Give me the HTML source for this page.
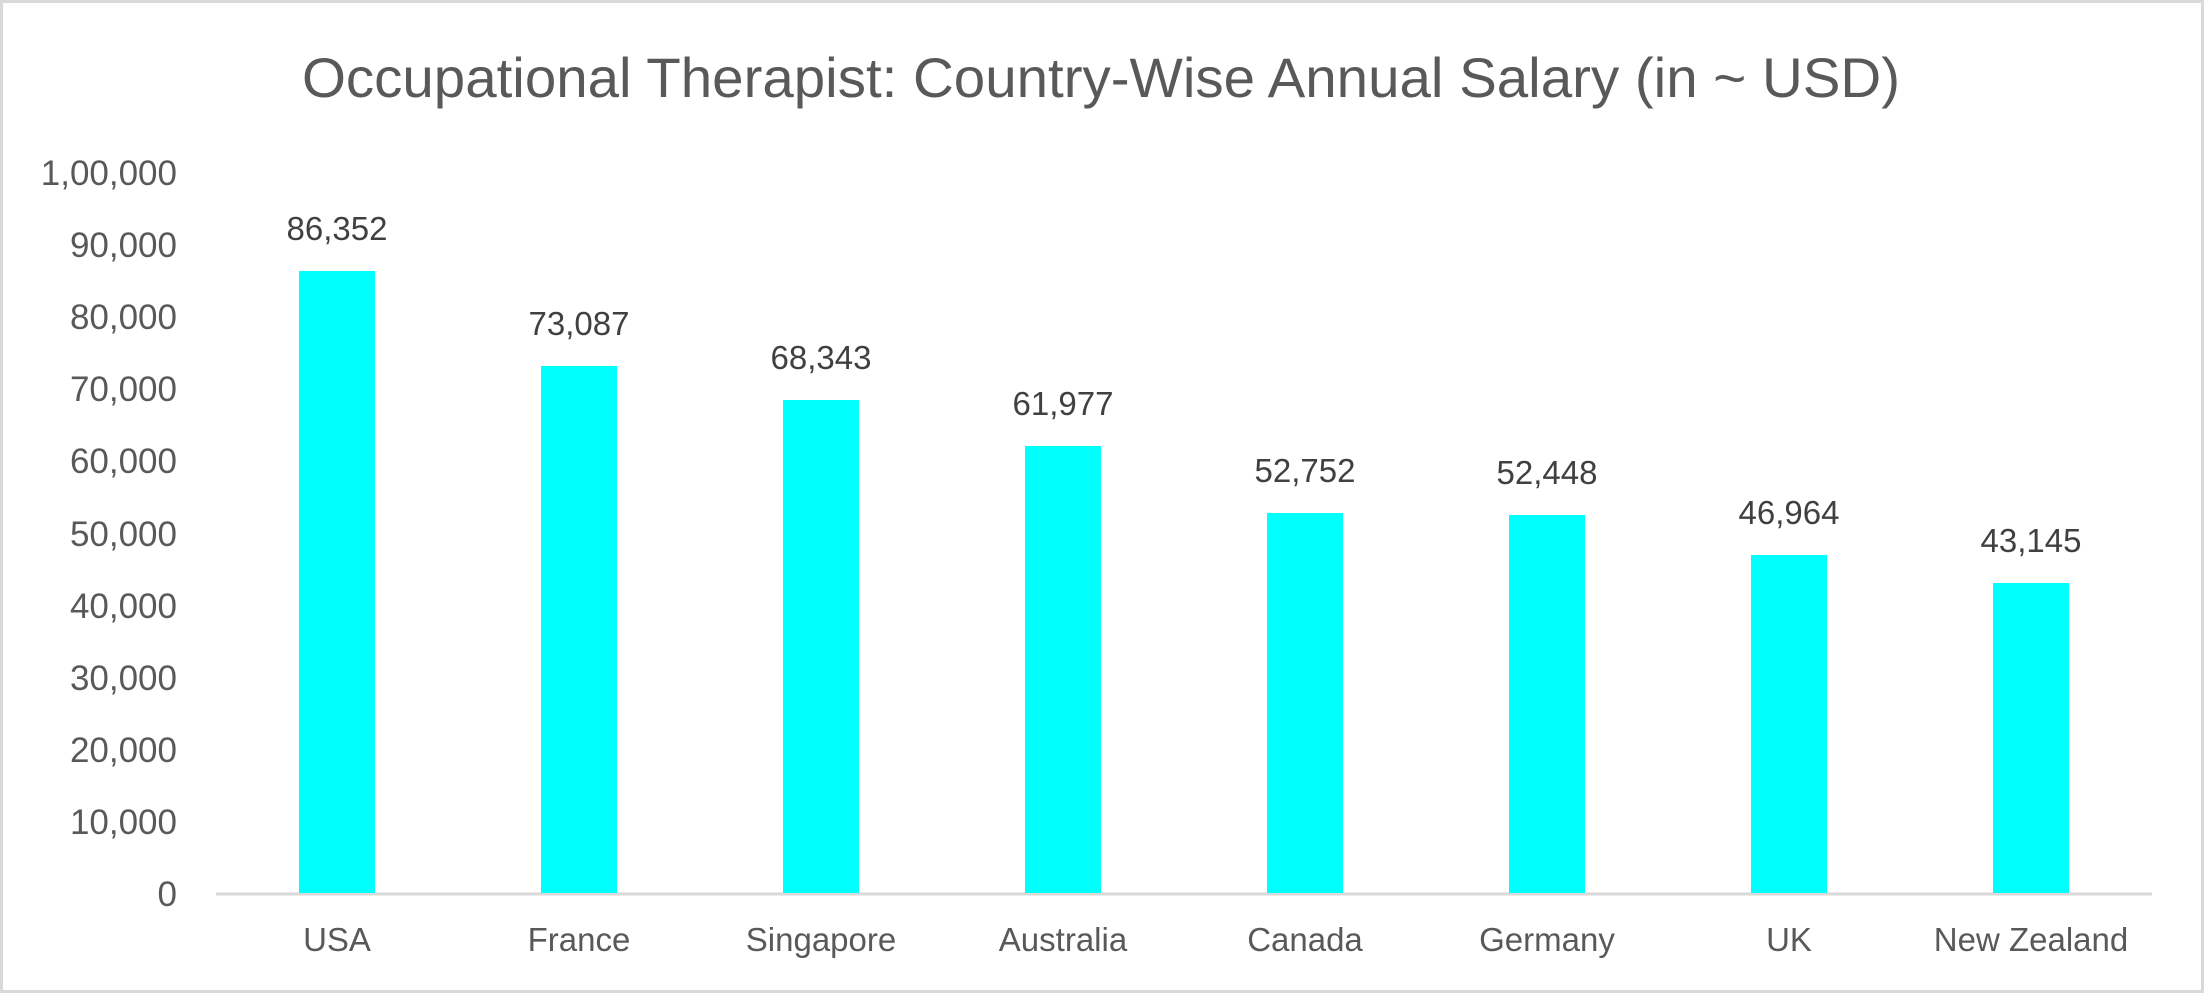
<!DOCTYPE html>
<html><head><meta charset="utf-8"><style>body{margin:0;background:#fff}svg{display:block}</style></head><body>
<svg width="2204" height="993" xmlns="http://www.w3.org/2000/svg" font-family="Liberation Sans, sans-serif">
<rect x="1.5" y="1.5" width="2201" height="990" fill="#fff" stroke="#d9d9d9" stroke-width="3"/>
<text x="1101" y="97" text-anchor="middle" font-size="56" fill="#595959" textLength="1598" lengthAdjust="spacingAndGlyphs">Occupational Therapist: Country-Wise Annual Salary (in ~ USD)</text>
<g font-size="35" fill="#595959" text-anchor="end">
<text x="177" y="906">0</text>
<text x="177" y="834">10,000</text>
<text x="177" y="762">20,000</text>
<text x="177" y="690">30,000</text>
<text x="177" y="618">40,000</text>
<text x="177" y="546">50,000</text>
<text x="177" y="473">60,000</text>
<text x="177" y="401">70,000</text>
<text x="177" y="329">80,000</text>
<text x="177" y="257">90,000</text>
<text x="177" y="185">1,00,000</text>
</g>
<line x1="216" y1="894" x2="2152" y2="894" stroke="#d9d9d9" stroke-width="3"/>
<g fill="#00ffff">
<rect x="299" y="271" width="76" height="622"/>
<rect x="541" y="366" width="76" height="527"/>
<rect x="783" y="400" width="76" height="493"/>
<rect x="1025" y="446" width="76" height="447"/>
<rect x="1267" y="513" width="76" height="380"/>
<rect x="1509" y="515" width="76" height="378"/>
<rect x="1751" y="555" width="76" height="338"/>
<rect x="1993" y="583" width="76" height="310"/>
</g>
<g font-size="33" fill="#404040" text-anchor="middle">
<text x="337" y="240">86,352</text>
<text x="579" y="335">73,087</text>
<text x="821" y="369">68,343</text>
<text x="1063" y="415">61,977</text>
<text x="1305" y="482">52,752</text>
<text x="1547" y="484">52,448</text>
<text x="1789" y="524">46,964</text>
<text x="2031" y="552">43,145</text>
</g>
<g font-size="33" fill="#595959" text-anchor="middle">
<text x="337" y="951">USA</text>
<text x="579" y="951">France</text>
<text x="821" y="951">Singapore</text>
<text x="1063" y="951">Australia</text>
<text x="1305" y="951">Canada</text>
<text x="1547" y="951">Germany</text>
<text x="1789" y="951">UK</text>
<text x="2031" y="951">New Zealand</text>
</g>
</svg>
</body></html>
